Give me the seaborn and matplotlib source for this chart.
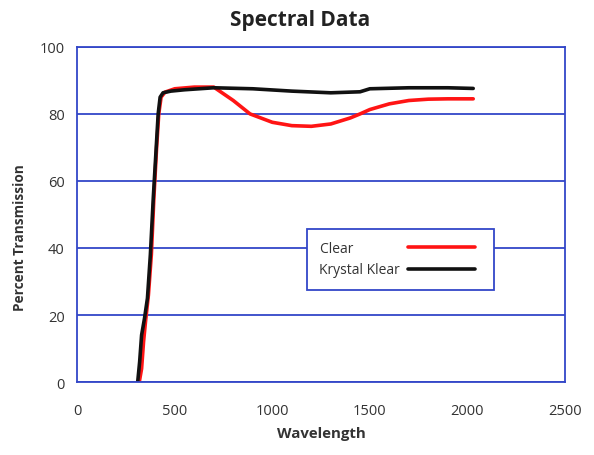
import pandas as pd
import matplotlib.pyplot as plt
import numpy as np
import seaborn as sns

# values
clear_x = [318, 330, 340, 350, 365, 380, 393, 407, 418, 430, 450, 500, 600, 700,
           750, 800, 886, 1000, 1100, 1200, 1300, 1400, 1450, 1500, 1600, 1700, 1800, 1900, 2030]
clear_y = [0, 4, 12, 18, 26, 38, 55, 70, 80, 85, 86.5, 87.5, 88, 88,
           86, 84, 80, 77.5, 76.5, 76.3, 77, 78.8, 80, 81.3, 83, 84, 84.4, 84.5, 84.5]

klear_x = [310, 320, 330, 345, 360, 375, 390, 405, 415, 425, 440, 480, 550, 700,
           900, 1100, 1300, 1450, 1500, 1700, 1900, 2030]
klear_y = [0, 6, 14, 19, 25, 38, 55, 70, 80, 85, 86.3, 86.8, 87.2, 87.8,
           87.5, 86.8, 86.3, 86.6, 87.5, 87.8, 87.8, 87.6]

series_names = ['Clear', 'Krystal Klear']
x_ticks = [0, 500, 1000, 1500, 2000, 2500]
y_ticks = [0, 20, 40, 60, 80, 100]

df = pd.concat([
    pd.DataFrame({'Wavelength': clear_x, 'Transmission': clear_y, 'Sample': series_names[0]}),
    pd.DataFrame({'Wavelength': klear_x, 'Transmission': klear_y, 'Sample': series_names[1]}),
])

sns.set_style('white')
plt.rcParams['font.family'] = ['Open Sans', 'DejaVu Sans']

blue = '#3347c8'
text_col = '#333333'

fig, ax = plt.subplots(figsize=(5.94, 4.56), dpi=100)
plt.subplots_adjust(left=0.130, right=0.951, bottom=0.160, top=0.895)

sns.lineplot(data=df, x='Wavelength', y='Transmission', hue='Sample',
             palette={'Clear': '#ff1414', 'Krystal Klear': '#111111'},
             linewidth=2.6, sort=False, estimator=None, ax=ax)

ax.set_xlim(0, 2500)
ax.set_ylim(0, 100)
ax.set_xticks(x_ticks)
ax.set_yticks(y_ticks)
ax.yaxis.grid(True, color=blue, linewidth=1.3)
ax.set_axisbelow(True)
for s in ax.spines.values():
    s.set_color(blue)
    s.set_linewidth(1.3)
ax.tick_params(axis='both', colors=blue, length=8, width=1.3, direction='out',
               labelcolor=text_col, labelsize=10.5)
ax.tick_params(axis='x', pad=7)
ax.tick_params(axis='y', pad=1)

ax.set_title('Spectral Data', fontsize=15, fontweight='bold', color='#222222',
             x=0.457, pad=16)
ax.set_xlabel('Wavelength', fontsize=10.8, fontweight='bold', color=text_col, labelpad=6)
ax.set_ylabel('Percent Transmission', fontsize=9.8, fontweight='bold', color=text_col,
              labelpad=9, y=0.433)

# labels left, lines right, text padded so the lines line up
handles, labels = ax.get_legend_handles_labels()
labels = [labels[0] + ' ' * 13, labels[1]]
leg = ax.legend(handles, labels, loc='lower left', bbox_to_anchor=(0.471, 0.275, 0.383, 0.176),
                mode='expand', borderaxespad=0, markerfirst=False, frameon=True, fancybox=False,
                fontsize=10, handlelength=4.8, handletextpad=0.6, labelspacing=0.45, borderpad=0.9)
leg.get_frame().set_edgecolor(blue)
leg.get_frame().set_linewidth(1.3)
leg.get_frame().set_alpha(1)
for t in leg.get_texts():
    t.set_color(text_col)

plt.savefig('out.png', dpi=100)
